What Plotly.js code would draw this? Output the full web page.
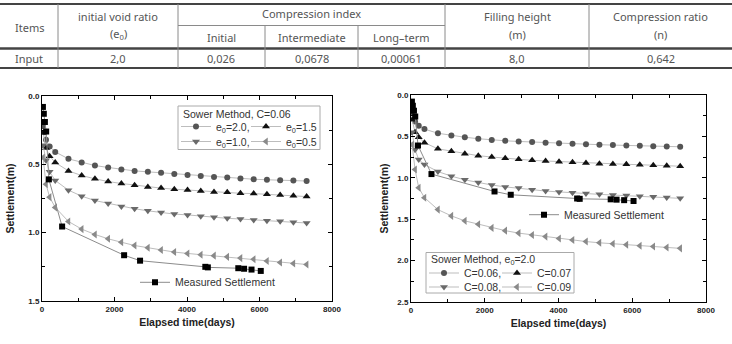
<!DOCTYPE html>
<html><head><meta charset="utf-8">
<script src="https://cdn.plot.ly/plotly-3.0.1.min.js"></script>
<style>html,body{margin:0;padding:0;background:#fff;} #chart{width:732px;height:344px;}</style>
</head><body><div id="chart"></div>
<script>
// ---------------- data ----------------
const headerTop   = ['Items', 'initial void ratio', 'Compression index', 'Filling height', 'Compression ratio'];
const headerUnits = ['', '(e<sub>0</sub>)', '', '(m)', '(n)'];
const headerSub   = ['Initial', 'Intermediate', 'Long\u2013term'];
const inputRow    = ['Input', '2,0', '0,026', '0,0678', '0,00061', '8,0', '0,642'];

const earlyDays = [30, 110, 210];
const yearDays  = [365, 730, 1095, 1460, 1825, 2190, 2555, 2920, 3285, 3650,
                   4015, 4380, 4745, 5110, 5475, 5840, 6205, 6570, 6935, 7300];

// left: Sower method C=0.06, various e0
const e0_20 = [0.22, 0.32, 0.37, 0.409, 0.46, 0.487, 0.509, 0.523, 0.538, 0.548, 0.555, 0.562, 0.57, 0.578, 0.585, 0.592, 0.597, 0.604, 0.609, 0.613, 0.617, 0.619, 0.622];
const e0_15 = [0.27, 0.38, 0.44, 0.487, 0.548, 0.582, 0.606, 0.626, 0.64, 0.653, 0.665, 0.674, 0.682, 0.688, 0.695, 0.702, 0.705, 0.712, 0.714, 0.719, 0.724, 0.729, 0.736];
const e0_10 = [0.36, 0.47, 0.555, 0.618, 0.689, 0.733, 0.765, 0.786, 0.808, 0.825, 0.84, 0.852, 0.864, 0.87, 0.88, 0.887, 0.895, 0.9, 0.907, 0.912, 0.917, 0.924, 0.929];
const e0_05 = [0.45, 0.645, 0.74, 0.815, 0.918, 0.974, 1.013, 1.045, 1.07, 1.094, 1.11, 1.127, 1.142, 1.152, 1.161, 1.168, 1.177, 1.186, 1.195, 1.207, 1.218, 1.226, 1.233];

// right: Sower method e0=2.0, various C
const c_006 = [0.22, 0.32, 0.37, 0.412, 0.462, 0.49, 0.51, 0.528, 0.543, 0.553, 0.561, 0.569, 0.576, 0.582, 0.589, 0.595, 0.6, 0.605, 0.61, 0.614, 0.618, 0.621, 0.625];
const c_007 = [0.3, 0.45, 0.51, 0.576, 0.65, 0.68, 0.709, 0.733, 0.749, 0.765, 0.777, 0.789, 0.797, 0.805, 0.813, 0.821, 0.829, 0.833, 0.837, 0.842, 0.848, 0.853, 0.86];
const c_008 = [0.45, 0.66, 0.78, 0.84, 0.925, 0.98, 1.025, 1.058, 1.087, 1.11, 1.123, 1.143, 1.16, 1.172, 1.182, 1.19, 1.2, 1.208, 1.215, 1.222, 1.23, 1.239, 1.248];
const c_009 = [0.6, 0.9, 1.12, 1.24, 1.384, 1.46, 1.52, 1.56, 1.605, 1.638, 1.668, 1.69, 1.71, 1.733, 1.752, 1.77, 1.785, 1.797, 1.808, 1.82, 1.83, 1.842, 1.852];

// measured settlement
const measDays   = [25, 50, 80, 115, 190, 555, 2265, 2705, 4505, 4575, 5415, 5575, 5780, 6035];
const measSettle = [0.08, 0.13, 0.19, 0.26, 0.61, 0.955, 1.165, 1.205, 1.25, 1.254, 1.26, 1.264, 1.27, 1.28];

const leftNames  = ['e<sub>0</sub>=2.0,', 'e<sub>0</sub>=1.5', 'e<sub>0</sub>=1.0,', 'e<sub>0</sub>=0.5'];
const rightNames = ['C=0.06,', 'C=0.07', 'C=0.08,', 'C=0.09'];
const measName   = 'Measured Settlement';
const leftTitle  = 'Sower Method, C=0.06';
const rightTitle = 'Sower Method, e<sub>0</sub>=2.0';
const xTitle = 'Elapsed time(days)';
const yTitle = 'Settlement(m)';

// ---------------- layout helpers ----------------
const W = 732, H = 344;
const px = v => v / W;
const py = v => 1 - v / H;
const modelDays = earlyDays.concat(yearDays);

const symbols = ['circle', 'triangle-up', 'triangle-down', 'triangle-left'];
const mColors = ['#555555', '#111111', '#6a6a6a', '#8a8a8a'];
const mSizes  = [6, 7, 7, 7];
const lineCol = '#bdbdbd';

// legend entry positions (left x of each legend entry, row centre y)
const leftLegX  = [176, 246, 176, 246];
const leftLegY  = [126.5, 126.5, 141.5, 141.5];
const rightLegX = [424, 497, 424, 497];
const rightLegY = [273, 273, 287, 287];

const traces = [];
const leftSeries = [e0_20, e0_15, e0_10, e0_05];
const rightSeries = [c_006, c_007, c_008, c_009];
leftSeries.forEach((s, i) => traces.push({
  type: 'scatter', mode: 'lines+markers', x: modelDays, y: s, name: leftNames[i],
  xaxis: 'x', yaxis: 'y', legend: i === 0 ? 'legend' : 'legend' + (i + 1),
  line: {color: lineCol, width: 1},
  marker: {symbol: symbols[i], color: mColors[i], size: mSizes[i]}
}));
rightSeries.forEach((s, i) => traces.push({
  type: 'scatter', mode: 'lines+markers', x: modelDays, y: s, name: rightNames[i],
  xaxis: 'x2', yaxis: 'y2', legend: 'legend' + (i + 5),
  line: {color: lineCol, width: 1},
  marker: {symbol: symbols[i], color: mColors[i], size: mSizes[i]}
}));
traces.push({
  type: 'scatter', mode: 'lines+markers', x: measDays, y: measSettle, name: measName,
  xaxis: 'x', yaxis: 'y', legend: 'legend9',
  line: {color: '#8c8c8c', width: 1},
  marker: {symbol: 'square', color: '#000', size: 6}
});
traces.push({
  type: 'scatter', mode: 'lines+markers', x: measDays, y: measSettle, name: measName,
  xaxis: 'x2', yaxis: 'y2', legend: 'legend10',
  line: {color: '#8c8c8c', width: 1},
  marker: {symbol: 'square', color: '#000', size: 6}
});

const tickFont = {family: 'Liberation Sans, Arial', size: 8, color: '#222', weight: 'bold'};
const titleFont = {family: 'Liberation Sans, Arial', size: 10.5, color: '#222', weight: 'bold'};
function xAxis(d0, d1, anchor) {
  return {
    domain: [px(d0), px(d1)], anchor: anchor, range: [0, 8000], dtick: 2000,
    ticks: 'inside', ticklen: 4, tickwidth: 1, tickcolor: '#000',
    minor: {dtick: 1000, ticks: 'inside', ticklen: 3, tickcolor: '#000'},
    showline: true, linecolor: '#000', linewidth: 1, mirror: 'ticks',
    showgrid: false, zeroline: false, tickfont: tickFont,
    title: {text: xTitle, font: titleFont, standoff: 6}
  };
}
function yAxis(t, b, maxv, anchor, standoff) {
  return {
    domain: [py(b), py(t)], anchor: anchor, range: [maxv, 0], dtick: 0.5, tickformat: '.1f',
    ticks: 'inside', ticklen: 4, tickwidth: 1, tickcolor: '#000',
    minor: {dtick: 0.25, ticks: 'inside', ticklen: 3, tickcolor: '#000'},
    showline: true, linecolor: '#000', linewidth: 1, mirror: 'ticks',
    showgrid: false, zeroline: false, tickfont: tickFont,
    title: {text: yTitle, font: titleFont, standoff: standoff}
  };
}

// ---------------- table shapes & text ----------------
const tFont = {family: 'Noto Sans, Liberation Sans', size: 11, color: '#555'};
const shapes = [];
function hline(x0, x1, y, w, c) { shapes.push({type: 'line', xref: 'paper', yref: 'paper', x0: px(x0), x1: px(x1), y0: py(y), y1: py(y), line: {color: c, width: w}}); }
function vline(x, y0, y1) { shapes.push({type: 'line', xref: 'paper', yref: 'paper', x0: px(x), x1: px(x), y0: py(y0), y1: py(y1), line: {color: '#8a8a8a', width: 1}}); }
hline(0, 732, 4, 2, '#444');
hline(178, 445, 25.5, 1, '#8a8a8a');
hline(0, 732, 48.5, 2.5, '#444');
hline(0, 732, 68, 2, '#444');
[58, 178, 445, 589].forEach(x => vline(x, 4, 68));
[265, 358].forEach(x => vline(x, 25.5, 68));
// legend boxes
shapes.push({type: 'rect', xref: 'paper', yref: 'paper', x0: px(178), x1: px(320), y0: py(106), y1: py(149.5), line: {color: '#aaaaaa', width: 1}});
shapes.push({type: 'rect', xref: 'paper', yref: 'paper', x0: px(426), x1: px(574), y0: py(252.5), y1: py(293), line: {color: '#aaaaaa', width: 1}});

const annotations = [];
function txt(t, x, y) { annotations.push({text: t, x: px(x), y: py(y), xref: 'paper', yref: 'paper', showarrow: false, xanchor: 'center', yanchor: 'middle', font: tFont}); }
const topX = [29, 118, 311.5, 517, 660.5];
const topY = [27, 17, 14, 17, 17];
headerTop.forEach((t, i) => txt(t, topX[i], topY[i]));
headerUnits.forEach((t, i) => { if (t) txt(t, topX[i], 34.5); });
const subX = [221.5, 311.5, 401.5];
headerSub.forEach((t, i) => txt(t, subX[i], 37.5));
const rowX = [29, 118, 221.5, 311.5, 401.5, 517, 660.5];
inputRow.forEach((t, i) => txt(t, rowX[i], 58.5));

const legFont = {family: 'Liberation Sans, Arial', size: 10.5, color: '#333'};
// legend box titles
annotations.push({text: leftTitle, x: px(181), y: py(114), xref: 'paper', yref: 'paper', showarrow: false, xanchor: 'left', yanchor: 'middle', font: legFont});
annotations.push({text: rightTitle, x: px(429), y: py(259.5), xref: 'paper', yref: 'paper', showarrow: false, xanchor: 'left', yanchor: 'middle', font: legFont});

function leg(x, y) {
  return {x: px(x), y: py(y), xanchor: 'left', yanchor: 'middle', orientation: 'h',
    bgcolor: 'rgba(0,0,0,0)', borderwidth: 0, font: legFont, itemwidth: 30};
}

const layout = {
  width: W, height: H, margin: {l: 0, r: 0, t: 0, b: 0},
  paper_bgcolor: '#fff', plot_bgcolor: '#fff',
  showlegend: true,
  xaxis: xAxis(42, 332, 'y'),
  yaxis: yAxis(96, 301, 1.5, 'x', 11),
  xaxis2: xAxis(411, 706, 'y2'),
  yaxis2: yAxis(95, 302, 2.5, 'x2', 6),
  legend9: leg(135, 282.3),
  legend10: leg(524, 214.7),
  shapes: shapes,
  annotations: annotations
};
for (let i = 0; i < 4; i++) {
  layout[i === 0 ? 'legend' : 'legend' + (i + 1)] = leg(leftLegX[i], leftLegY[i]);
  layout['legend' + (i + 5)] = leg(rightLegX[i], rightLegY[i]);
}

Plotly.newPlot('chart', traces, layout, {staticPlot: true, displayModeBar: false});
</script>
</body></html>
